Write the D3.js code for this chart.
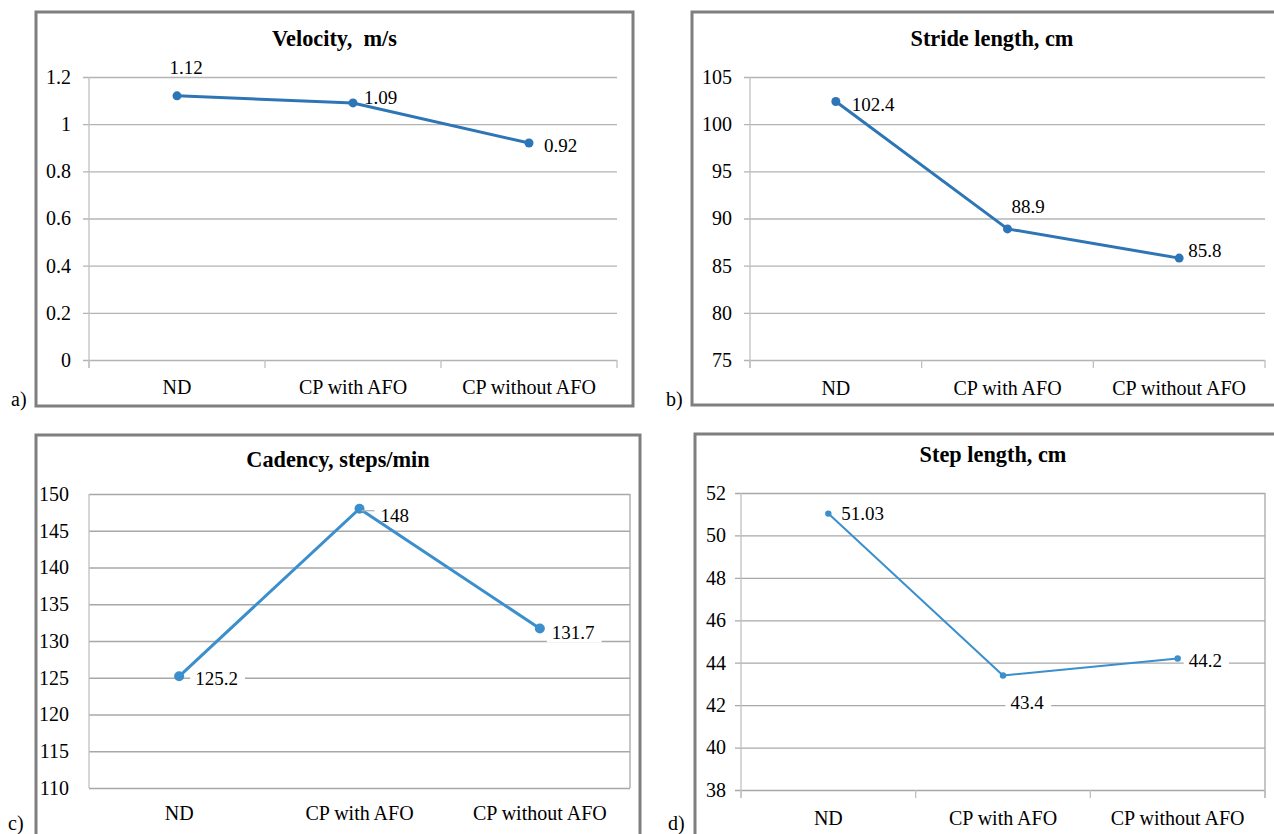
<!DOCTYPE html>
<html>
<head>
<meta charset="utf-8">
<script src="https://cdn.jsdelivr.net/npm/d3@7/dist/d3.min.js"></script>
<style>
  body { margin: 0; background: #fff; }
  svg text { font-family: "Liberation Serif", Tinos, "Times New Roman", "DejaVu Serif", serif; fill: #000; }
</style>
</head>
<body>
<div id="chart"></div>
<script>
// data
const categories = ['ND', 'CP with AFO', 'CP without AFO'];
const velocity = [1.12, 1.09, 0.92];
const strideLength = [102.4, 88.9, 85.8];
const cadency = [125.2, 148, 131.7];
const stepLength = [51.03, 43.4, 44.2];

const velocityTicks = [0, 0.2, 0.4, 0.6, 0.8, 1, 1.2];
const strideTicks = [75, 80, 85, 90, 95, 100, 105];
const cadencyTicks = [110, 115, 120, 125, 130, 135, 140, 145, 150];
const stepTicks = [38, 40, 42, 44, 46, 48, 50, 52];

const serif = '"Liberation Serif", Tinos, "Times New Roman", "DejaVu Serif", serif';

const svg = d3.select('#chart').append('svg')
    .attr('width', 1274)
    .attr('height', 834)
    .attr('font-family', serif);

// layout of the four panels
const panels = [
    {
        tag: 'a)', tagX: 11, tagY: 406,
        title: 'Velocity,  m/s', values: velocity, ticks: velocityTicks,
        frame: [36, 12, 597, 394],
        left: 89, top: 77, right: 617, bottom: 360,
        titleY: 46, catY: 394, tickGap: 18,
        color: '#2e75b6', width: 3, r: 4.5,
        grid: '#b4b4b4', yTick: 6, xTick: 8, box: false,
        labels: [
            { dx: 9, dy: -22, anchor: 'middle' },
            { dx: 11, dy: 1 },
            { dx: 15, dy: 9 }
        ]
    },
    {
        tag: 'b)', tagX: 666, tagY: 406,
        title: 'Stride length, cm', values: strideLength, ticks: strideTicks,
        frame: [692, 12, 600, 393],
        left: 750, top: 77, right: 1265, bottom: 360,
        titleY: 46, catY: 395, tickGap: 18,
        color: '#2e75b6', width: 3, r: 4.5,
        grid: '#b4b4b4', yTick: 6, xTick: 8, box: false,
        labels: [
            { dx: 16, dy: 9 },
            { dx: 4, dy: -16 },
            { dx: 9, dy: -1 }
        ]
    },
    {
        tag: 'c)', tagX: 8, tagY: 830,
        title: 'Cadency, steps/min', values: cadency, ticks: cadencyTicks,
        frame: [36, 435, 604, 402],
        left: 89, top: 494, right: 630, bottom: 788,
        titleY: 467, catY: 820, tickGap: 20,
        color: '#3a8fcc', width: 3, r: 5,
        grid: '#a8a8a8', yTick: 0, xTick: 0, box: true,
        labels: [
            { dx: 16, dy: 9, bg: true },
            { dx: 21, dy: 13, leader: true },
            { dx: 12, dy: 10, bg: true }
        ]
    },
    {
        tag: 'd)', tagX: 668, tagY: 830,
        title: 'Step length, cm', values: stepLength, ticks: stepTicks,
        frame: [695, 434, 596, 402],
        left: 741, top: 493, right: 1265, bottom: 790,
        titleY: 462, catY: 825, tickGap: 15,
        color: '#3a8fcc', width: 2, r: 3.2,
        grid: '#a8a8a8', yTick: 6, xTick: 8, box: true,
        labels: [
            { dx: 13, dy: 6 },
            { dx: 24, dy: 34, anchor: 'middle', bg: true },
            { dx: 11, dy: 9, bg: true }
        ]
    }
];

panels.forEach(p => {
    const g = svg.append('g');

    // outer frame
    g.append('rect')
        .attr('x', p.frame[0])
        .attr('y', p.frame[1])
        .attr('width', p.frame[2])
        .attr('height', p.frame[3])
        .attr('fill', 'none')
        .attr('stroke', '#7f7f7f')
        .attr('stroke-width', 3);

    g.append('text')
        .attr('x', p.tagX)
        .attr('y', p.tagY)
        .style('font-size', '20px')
        .text(p.tag);

    // title, a bit narrowed like the original
    g.append('text')
        .attr('transform', `translate(${p.frame[0] + p.frame[2] / 2},${p.titleY}) scale(0.93,1)`)
        .attr('text-anchor', 'middle')
        .style('font-size', '24px')
        .style('font-weight', 'bold')
        .style('white-space', 'pre')
        .text(p.title);

    const x = d3.scaleBand()
        .domain(categories)
        .range([p.left, p.right]);

    const y = d3.scaleLinear()
        .domain(d3.extent(p.ticks))
        .range([p.bottom, p.top]);

    // gridlines + y labels
    const yAxis = g.append('g')
        .attr('transform', `translate(${p.left},0)`)
        .call(d3.axisLeft(y)
            .tickValues(p.ticks)
            .tickSize(-(p.right - p.left))
            .tickFormat(d3.format('~g')))
        .attr('font-family', serif)
        .attr('font-size', 20);
    yAxis.select('.domain').remove();
    yAxis.selectAll('.tick line')
        .attr('x1', -p.yTick)
        .attr('stroke', p.grid)
        .attr('stroke-width', 1.3);
    yAxis.selectAll('.tick text')
        .attr('x', -p.tickGap)
        .attr('fill', '#000');

    // vertical axis line
    g.append('line')
        .attr('x1', p.left).attr('x2', p.left)
        .attr('y1', p.top).attr('y2', p.bottom + p.xTick)
        .attr('stroke', '#c0c0c0')
        .attr('stroke-width', 1.3);

    if (p.box) {
        g.append('line')
            .attr('x1', p.right).attr('x2', p.right)
            .attr('y1', p.top).attr('y2', p.bottom + p.xTick)
            .attr('stroke', '#a8a8a8')
            .attr('stroke-width', 1.3);
    }

    // x tick marks at band edges
    if (p.xTick) {
        const edges = categories.map(c => x(c)).concat([p.right]);
        g.selectAll('.xt')
            .data(edges)
            .join('line')
            .attr('x1', d => d).attr('x2', d => d)
            .attr('y1', p.bottom).attr('y2', p.bottom + p.xTick)
            .attr('stroke', '#c0c0c0')
            .attr('stroke-width', 1.3);
    }

    g.selectAll('.cat')
        .data(categories)
        .join('text')
        .attr('x', d => x(d) + x.bandwidth() / 2)
        .attr('y', p.catY)
        .attr('text-anchor', 'middle')
        .style('font-size', '20px')
        .text(d => d);

    const cx = (d, i) => x(categories[i]) + x.bandwidth() / 2;

    const line = d3.line()
        .x((d, i) => cx(d, i))
        .y(d => y(d));

    g.append('path')
        .datum(p.values)
        .attr('d', line)
        .attr('fill', 'none')
        .attr('stroke', p.color)
        .attr('stroke-width', p.width)
        .attr('stroke-linejoin', 'round');

    g.selectAll('.pt')
        .data(p.values)
        .join('circle')
        .attr('cx', cx)
        .attr('cy', d => y(d))
        .attr('r', p.r)
        .attr('fill', p.color);

    // data labels
    p.values.forEach((v, i) => {
        const lab = p.labels[i];
        const px = cx(v, i), py = y(v);
        if (lab.leader) {
            g.append('line')
                .attr('x1', px + 2).attr('x2', px + 15)
                .attr('y1', py + 2).attr('y2', py + 2)
                .attr('stroke', '#b4b4b4')
                .attr('stroke-width', 1.3);
        }
        const t = g.append('text')
            .attr('x', px + lab.dx)
            .attr('y', py + lab.dy)
            .attr('text-anchor', lab.anchor || 'start')
            .style('font-size', '19px')
            .text(v);
        if (lab.bg) {
            const b = t.node().getBBox();
            g.insert('rect', () => t.node())
                .attr('x', b.x - 5)
                .attr('y', b.y)
                .attr('width', b.width + 12)
                .attr('height', b.height)
                .attr('fill', '#fff');
        }
    });
});
</script>
</body>
</html>
